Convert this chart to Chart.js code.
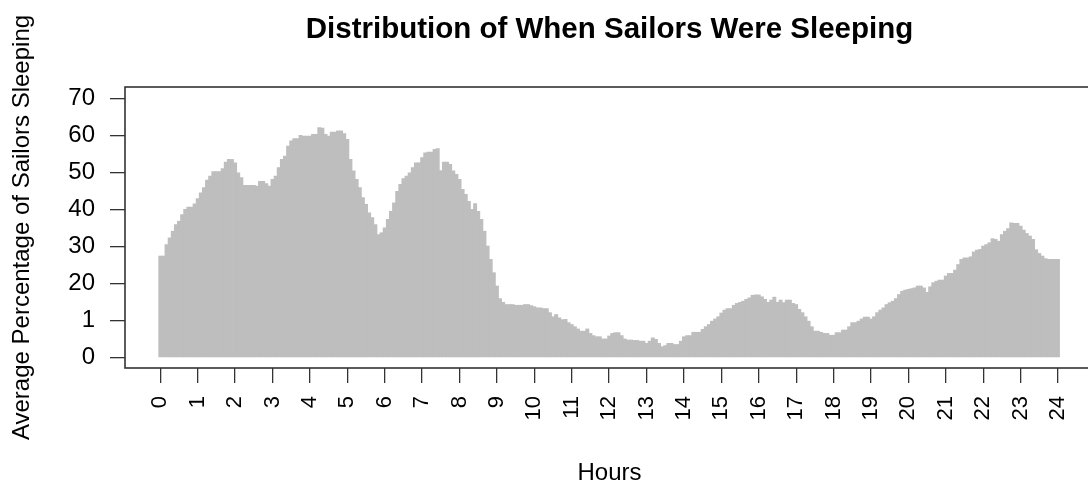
<!DOCTYPE html>
<html>
<head>
<meta charset="utf-8">
<script src="https://cdn.jsdelivr.net/npm/chart.js@4"></script>
<style>
  html, body { margin: 0; padding: 0; background: #fff; overflow: hidden; }
  #wrap { width: 1088px; height: 489px; overflow: hidden; position: relative; }
  canvas { display: block; }
</style>
</head>
<body>
<div id="wrap"><canvas id="c" width="1219" height="489" style="width:1219px;height:489px"></canvas></div>
<script>
// Average percentage of sailors sleeping, one value per 5-minute slot (00:00 .. 24:00)
const sleepValues = [
  27.4, 27.4, 30.5, 32.3, 34.1, 35.9, 36.8, 38.6, 40.0, 40.6, 40.6, 41.5,
  42.9, 44.5, 45.9, 47.9, 49.0, 50.2, 50.2, 50.2, 51.0, 52.8, 53.5, 53.5,
  52.6, 49.9, 48.6, 46.5, 46.5, 46.5, 46.5, 46.3, 47.6, 47.6, 47.0, 46.3,
  48.1, 49.0, 51.3, 53.5, 54.4, 57.1, 58.5, 59.1, 59.1, 60.0, 59.8, 59.8,
  59.8, 60.3, 60.3, 62.1, 62.0, 60.3, 59.8, 60.9, 60.9, 61.2, 61.2, 60.5,
  58.9, 53.5, 50.4, 48.1, 45.9, 43.2, 41.4, 39.1, 37.8, 35.9, 33.2, 33.7,
  35.0, 37.3, 39.5, 41.8, 44.9, 46.8, 48.3, 49.0, 49.9, 51.3, 52.6, 52.6,
  54.0, 55.3, 55.5, 55.5, 56.2, 56.4, 50.5, 52.8, 52.8, 52.2, 50.4, 49.5,
  48.1, 45.4, 44.1, 42.2, 40.0, 41.6, 39.5, 37.3, 34.1, 30.1, 26.5, 22.9,
  19.3, 15.9, 14.9, 14.3, 14.3, 14.3, 14.1, 14.1, 14.1, 14.3, 14.3, 14.0,
  13.7, 13.4, 13.4, 13.2, 13.2, 12.1, 11.0, 11.6, 10.7, 10.2, 10.3, 9.4,
  8.9, 8.3, 7.7, 7.1, 7.1, 7.7, 6.5, 5.9, 5.6, 5.6, 5.0, 5.0,
  5.8, 6.5, 6.7, 6.7, 5.9, 5.0, 4.7, 4.7, 4.6, 4.6, 4.4, 4.4,
  3.8, 4.4, 5.3, 4.9, 3.8, 2.9, 3.2, 3.8, 3.8, 3.5, 3.5, 4.4,
  5.6, 5.9, 5.9, 6.8, 6.8, 6.8, 7.6, 8.3, 8.9, 9.8, 10.4, 11.0,
  12.0, 12.8, 13.2, 13.2, 14.1, 14.6, 14.9, 15.2, 15.7, 16.1, 16.8, 16.9,
  16.9, 16.4, 15.7, 14.9, 15.5, 16.3, 14.9, 15.5, 14.8, 15.5, 15.5, 14.6,
  14.3, 13.0, 12.1, 11.0, 9.8, 8.3, 7.1, 7.1, 6.8, 6.5, 6.5, 6.0,
  6.0, 6.7, 6.7, 7.4, 7.4, 8.3, 9.4, 9.4, 9.8, 10.4, 10.9, 10.9,
  10.4, 11.0, 12.1, 12.8, 13.4, 14.3, 14.8, 15.2, 15.9, 17.0, 17.9, 18.2,
  18.4, 18.6, 18.8, 19.3, 19.3, 18.8, 17.6, 19.1, 20.2, 20.6, 20.9, 20.9,
  22.0, 22.7, 22.7, 23.6, 25.1, 26.5, 26.9, 26.9, 27.2, 28.5, 29.0, 29.2,
  30.1, 30.5, 31.0, 32.1, 31.9, 31.4, 33.2, 34.1, 34.8, 36.4, 36.2, 36.2,
  35.5, 34.4, 33.5, 32.8, 31.9, 29.1, 28.1, 27.4, 26.7, 26.5, 26.5, 26.5,
  26.5
];
// time of each slot, in hours
const slotHours = sleepValues.map((_, i) => i / 12);

const xTickValues = [0,1,2,3,4,5,6,7,8,9,10,11,12,13,14,15,16,17,18,19,20,21,22,23,24];
const xTickLabels = ["0","1","2","3","4","5","6","7","8","9","10","11","12","13","14","15","16","17","18","19","20","21","22","23","24"];
const yTickValues = [0, 10, 20, 30, 40, 50, 60, 70];
const yTickLabels = ["0", "1", "20", "30", "40", "50", "60", "70"];

const FONT = '"Liberation Sans", Arial, Helvetica, sans-serif';
Chart.defaults.font.family = FONT;
Chart.defaults.color = '#000';

const framePlugin = {
  id: 'frame',
  afterDatasetsDraw(chart) {
    const { ctx, chartArea: a } = chart;
    ctx.save();
    ctx.strokeStyle = '#333';
    ctx.lineWidth = 1.6;
    ctx.strokeRect(a.left, a.top, a.right - a.left, a.bottom - a.top);
    ctx.restore();
  }
};

new Chart(document.getElementById('c'), {
  type: 'bar',
  data: {
    datasets: [{
      data: sleepValues.map((v, i) => ({ x: slotHours[i], y: v })),
      backgroundColor: '#bebebe',
      borderWidth: 0,
      barPercentage: 1,
      categoryPercentage: 1,
      inflateAmount: 0.4
    }]
  },
  options: {
    responsive: false,
    devicePixelRatio: 1,
    animation: false,
    layout: { padding: 0 },
    plugins: {
      legend: { display: false },
      tooltip: { enabled: false },
      title: {
        display: true,
        text: 'Distribution of When Sailors Were Sleeping',
        font: { size: 29.5, weight: 'bold', family: FONT },
        color: '#000',
        padding: { top: 12.3, bottom: 39.3 }
      }
    },
    scales: {
      x: {
        type: 'linear',
        offset: false,
        min: -0.944,
        max: 24.963,
        afterBuildTicks: s => { s.ticks = xTickValues.map(v => ({ value: v })); },
        afterFit: s => { s.height = 121; },
        ticks: {
          autoSkip: false,
          minRotation: 90,
          maxRotation: 90,
          padding: 13,
          font: { size: 22 },
          color: '#000',
          callback: (v, i) => xTickLabels[i]
        },
        grid: { display: true, offset: false, drawOnChartArea: false, drawTicks: true, tickLength: 15, color: '#333', lineWidth: 1.3 },
        border: { display: false },
        title: { display: true, text: 'Hours', font: { size: 24 }, color: '#000', padding: { top: 0, bottom: 1.3 } }
      },
      y: {
        type: 'linear',
        min: -2.84,
        max: 73.09,
        afterBuildTicks: s => { s.ticks = yTickValues.map(v => ({ value: v })); },
        afterFit: s => { s.width = 125; },
        ticks: {
          padding: 15,
          font: { size: 24 },
          color: '#000',
          callback: (v) => yTickLabels[yTickValues.indexOf(v)]
        },
        grid: { display: true, drawOnChartArea: false, drawTicks: true, tickLength: 15, color: '#333', lineWidth: 1.3 },
        border: { display: false },
        title: { display: true, text: 'Average Percentage of Sailors Sleeping', font: { size: 24 }, color: '#000', padding: { top: 8, bottom: 0 } }
      },
      // empty right-hand margin so the plot region is centred like the original
      yRightMargin: {
        type: 'linear',
        position: 'right',
        display: true,
        afterFit: s => { s.width = 125; },
        ticks: { display: false },
        grid: { display: false, drawTicks: false },
        border: { display: false }
      }
    }
  },
  plugins: [framePlugin]
});
</script>
</body>
</html>
